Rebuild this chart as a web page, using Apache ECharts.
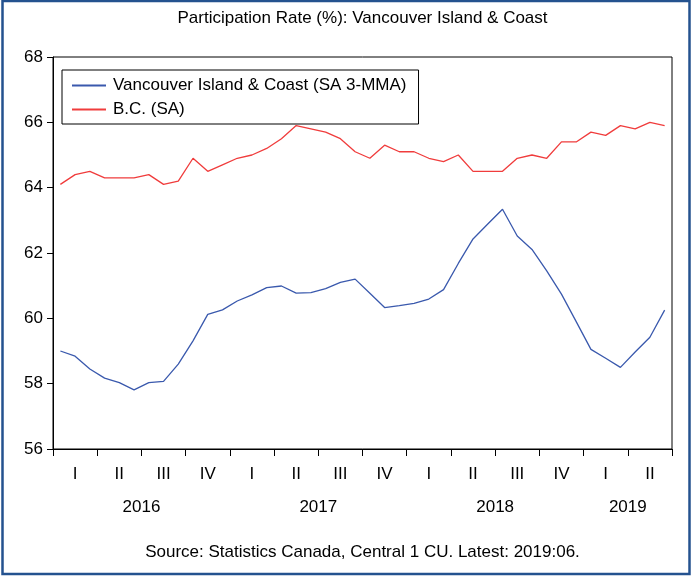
<!DOCTYPE html>
<html>
<head>
<meta charset="utf-8">
<script src="https://cdn.jsdelivr.net/npm/echarts@6/dist/echarts.min.js"></script>
<style>
    html, body { margin: 0; padding: 0; background: #fff; }
    #chart { width: 691px; height: 579px; }
</style>
</head>
<body>
<div id="chart"></div>
<script>
// monthly, 2016:01 .. 2019:06
const months = [];
for (let y = 2016; y <= 2019; y++) {
    for (let m = 1; m <= 12; m++) {
        if (y === 2019 && m > 6) break;
        months.push(y + ':' + String(m).padStart(2, '0'));
    }
}

const vancouverIsland = [
    59.0, 58.84, 58.45, 58.17, 58.03, 57.81, 58.03, 58.07, 58.6, 59.31, 60.12, 60.26,
    60.53, 60.72, 60.94, 60.99, 60.77, 60.79, 60.91, 61.1, 61.2, 60.77, 60.33, 60.39,
    60.46, 60.59, 60.88, 61.68, 62.43, 62.89, 63.34, 62.52, 62.11, 61.45, 60.74, 59.9,
    59.05, 58.78, 58.5, 58.97, 59.42, 60.25
];
const bc = [
    64.1, 64.4, 64.5, 64.3, 64.3, 64.3, 64.4, 64.1, 64.2, 64.9, 64.5, 64.7,
    64.9, 65.0, 65.2, 65.5, 65.9, 65.8, 65.7, 65.5, 65.1, 64.9, 65.3, 65.1,
    65.1, 64.9, 64.8, 65.0, 64.5, 64.5, 64.5, 64.9, 65.0, 64.9, 65.4, 65.4,
    65.7, 65.6, 65.9, 65.8, 66.0, 65.9
];

const quarterLabels = ['I', 'II', 'III', 'IV'];
const yearLabels = {6: '2016', 18: '2017', 30: '2018', 39: '2019'};

const font = 'Liberation Sans, Arial, sans-serif';
const chart = echarts.init(document.getElementById('chart'));

// title and source are centred on the plot area, not the page
const plotLeft = 53, plotRight = 19;
const plotCenter = plotLeft + (691 - plotLeft - plotRight) / 2;

chart.setOption({
    animation: false,
    textStyle: {fontFamily: font},
    graphic: [
        {
            type: 'rect',
            shape: {x: 2.5, y: 1, width: 687, height: 573},
            style: {fill: 'none', stroke: '#24528f', lineWidth: 2.5},
            silent: true
        },
        {
            type: 'text', x: plotCenter, y: 18,
            style: {
                text: 'Participation Rate (%): Vancouver Island & Coast',
                font: '17px ' + font, fill: '#000', align: 'center', verticalAlign: 'middle'
            }
        },
        {
            type: 'text', x: plotCenter, y: 552,
            style: {
                text: 'Source: Statistics Canada, Central 1 CU. Latest: 2019:06.',
                font: '17px ' + font, fill: '#000', align: 'center', verticalAlign: 'middle'
            }
        }
    ],
    legend: {
        orient: 'vertical',
        left: 62, top: 70,
        padding: [7, 12, 6, 10],
        borderColor: '#000', borderWidth: 1,
        backgroundColor: '#fff',
        itemWidth: 34, itemHeight: 2, itemGap: 7,
        textStyle: {fontSize: 17, lineHeight: 17, color: '#000', fontFamily: font, padding: [0, 0, 0, 2]},
        data: [
            {name: 'Vancouver Island & Coast (SA 3-MMA)', icon: 'rect'},
            {name: 'B.C. (SA)', icon: 'rect'}
        ]
    },
    grid: {
        left: plotLeft, right: plotRight, top: 57, bottom: 130,
        outerBoundsMode: 'none',
        show: true, borderColor: '#000', borderWidth: 1
    },
    xAxis: [
        {
            type: 'category', data: months, boundaryGap: true, position: 'bottom',
            axisLine: {lineStyle: {color: '#000', width: 1}},
            axisTick: {interval: 0, length: 4, lineStyle: {color: '#000'}},
            axisLabel: {show: false}
        },
        {
            type: 'value', min: 0, max: 42, interval: 3, position: 'bottom',
            axisLine: {show: false},
            axisTick: {length: 7, lineStyle: {color: '#000'}},
            axisLabel: {show: false}, splitLine: {show: false}
        },
        {
            type: 'value', min: 0, max: 42, interval: 1.5, position: 'bottom',
            axisLine: {show: false}, axisTick: {show: false}, splitLine: {show: false},
            axisLabel: {
                margin: 17, fontSize: 17, color: '#000', fontFamily: font,
                formatter: v => (v % 3 === 1.5 ? quarterLabels[Math.floor(v / 3) % 4] : '')
            }
        },
        {
            type: 'value', min: 0, max: 42, interval: 3, position: 'bottom',
            axisLine: {show: false}, axisTick: {show: false}, splitLine: {show: false},
            axisLabel: {
                margin: 50, fontSize: 17, color: '#000', fontFamily: font,
                formatter: v => yearLabels[v] || ''
            }
        }
    ],
    yAxis: {
        type: 'value', min: 56, max: 68, interval: 2,
        axisLine: {show: true, lineStyle: {color: '#000'}},
        axisTick: {show: true, length: 6, lineStyle: {color: '#000'}},
        axisLabel: {margin: 10, fontSize: 17, color: '#000', fontFamily: font},
        splitLine: {show: false}
    },
    series: [
        {
            name: 'Vancouver Island & Coast (SA 3-MMA)', type: 'line', data: vancouverIsland,
            symbol: 'none', lineStyle: {color: '#3a59ad', width: 1.3}, itemStyle: {color: '#3a59ad'}
        },
        {
            name: 'B.C. (SA)', type: 'line', data: bc,
            symbol: 'none', lineStyle: {color: '#f03c3c', width: 1.3}, itemStyle: {color: '#f03c3c'}
        }
    ]
});
</script>
</body>
</html>
